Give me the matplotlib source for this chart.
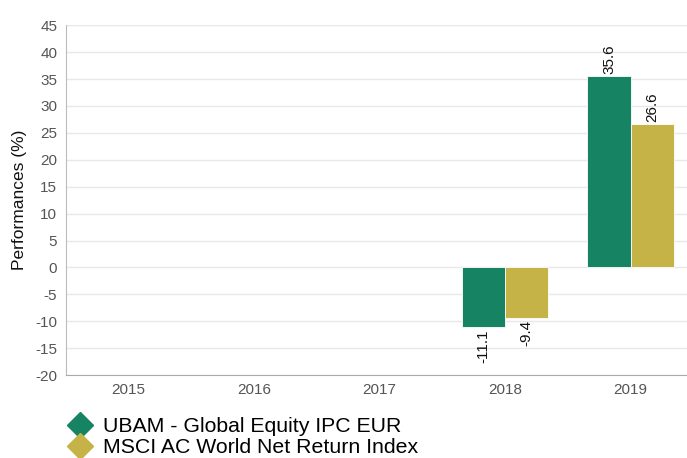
import numpy as np
import matplotlib
matplotlib.use("Agg")
import matplotlib.pyplot as plt
from matplotlib.lines import Line2D

plt.rcParams["font.family"] = "Liberation Sans"
plt.rcParams["axes.unicode_minus"] = False

years = ["2015", "2016", "2017", "2018", "2019"]
fund = [np.nan, np.nan, np.nan, -11.1, 35.6]
index = [np.nan, np.nan, np.nan, -9.4, 26.6]
fund_name = "UBAM - Global Equity IPC EUR"
index_name = "MSCI AC World Net Return Index"

green = "#168463"
yellow = "#C6B348"

fig = plt.figure(figsize=(6.87, 4.58), dpi=100)
# axes run a little past the right edge, like the original
ax = fig.add_axes([0.0955, 0.181, 0.914, 0.764])

x = np.arange(len(years))
w = 0.345
b1 = ax.bar(x - w/2, fund, w, color=green, edgecolor="white", linewidth=0.6, zorder=3)
b2 = ax.bar(x + w/2, index, w, color=yellow, edgecolor="white", linewidth=0.6, zorder=3)

for bars, vals in [(b1, fund), (b2, index)]:
    for rect, v in zip(bars, vals):
        if np.isnan(v):
            continue
        cx = rect.get_x() + rect.get_width()/2
        if v >= 0:
            ax.text(cx, v + 0.4, "%.1f" % v, rotation=90, ha="center", va="bottom", fontsize=11, color="#111111")
        else:
            ax.text(cx, v - 0.4, "%.1f" % v, rotation=90, ha="center", va="top", fontsize=11, color="#111111")

ax.set_xlim(-0.5, 4.5)
ax.set_ylim(-20, 45)
ax.set_yticks(np.arange(-20, 50, 5))
ax.set_xticks(x)
ax.set_xticklabels(years)
ax.set_ylabel("Performances (%)", fontsize=12.5, color="#111111", labelpad=6)
ax.tick_params(axis="both", length=0, labelsize=11, labelcolor="#555555", pad=6)
ax.grid(axis="y", color="#e8e8e8", linewidth=1, zorder=0)
for s in ["top", "right"]:
    ax.spines[s].set_visible(False)
ax.spines["left"].set_color("#bbbbbb")
ax.spines["bottom"].set_color("#aaaaaa")

handles = [Line2D([], [], marker="D", linestyle="none", markersize=13, color=green),
           Line2D([], [], marker="D", linestyle="none", markersize=13, color=yellow)]
fig.legend(handles, [fund_name, index_name], loc="upper left", bbox_to_anchor=(0.101, 0.089),
           frameon=False, fontsize=15.3, handletextpad=0.58, labelspacing=0.1, borderaxespad=0,
           handlelength=1.0, borderpad=0)

plt.savefig("out.png", dpi=100)
